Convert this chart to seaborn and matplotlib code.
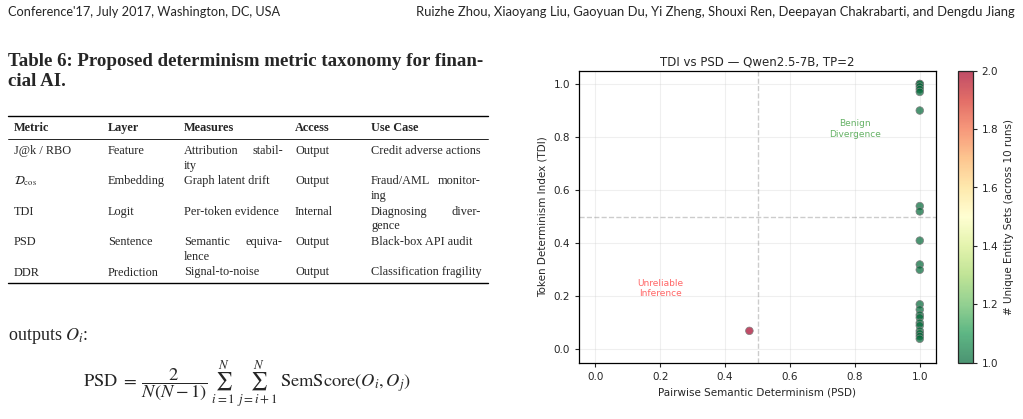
import numpy as np
import pandas as pd
import matplotlib
matplotlib.use("Agg")
import matplotlib.pyplot as plt
import seaborn as sns
from matplotlib.colors import ListedColormap, Normalize
from matplotlib.cm import ScalarMappable
from matplotlib.lines import Line2D

# ---- data ----
psd = [1.0] * 21 + [0.475]
tdi = [1.00, 1.00, 0.99, 0.98, 0.97, 0.90, 0.54, 0.52, 0.41, 0.32, 0.30,
       0.17, 0.15, 0.13, 0.12, 0.10, 0.09, 0.07, 0.06, 0.05, 0.04, 0.07]
unique_sets = [1.0] * 21 + [2.0]

cbar_ticks = [1.0, 1.2, 1.4, 1.6, 1.8, 2.0]

tbl_header = ["Metric", "Layer", "Measures", "Access", "Use Case"]
tbl_metric = ["J@k / RBO", r"$\mathcal{D}_{\mathrm{cos}}$", "TDI", "PSD", "DDR"]
tbl_layer = ["Feature", "Embedding", "Logit", "Sentence", "Prediction"]
tbl_measures = ["Attribution stabil-\nity", "Graph latent drift", "Per-token evidence",
                "Semantic equiva-\nlence", "Signal-to-noise"]
tbl_access = ["Output", "Output", "Internal", "Output", "Output"]
tbl_use = ["Credit adverse actions", "Fraud/AML monitor-\ning", "Diagnosing diver-\ngence",
           "Black-box API audit", "Classification fragility"]

df = pd.DataFrame({"PSD": psd, "TDI": tdi, "unique": unique_sets})

# ---- figure ----
sns.set_style("ticks")
plt.rcParams['font.family'] = ['DejaVu Sans']
plt.rcParams['mathtext.fontset'] = 'stix'

W, H = 1023, 419
fig = plt.figure(figsize=(W / 100, H / 100), dpi=100)


def fx(x):
    return x / W


def fy(y):
    return 1 - y / H


serif = ['Liberation Serif', 'DejaVu Serif']
sans = ['Lato', 'DejaVu Sans']

# page header
fig.text(fx(8), fy(12), "Conference'17, July 2017, Washington, DC, USA",
         family=sans, fontsize=9.2, va='center', ha='left')
fig.text(fx(1015), fy(12),
         "Ruizhe Zhou, Xiaoyang Liu, Gaoyuan Du, Yi Zheng, Shouxi Ren, Deepayan Chakrabarti, and Dengdu Jiang",
         family=sans, fontsize=9.4, va='center', ha='right')

# table caption
fig.text(fx(8), fy(61), "Table 6: Proposed determinism metric taxonomy for finan-",
         family=serif, fontsize=13.6, weight='bold', va='center', ha='left')
fig.text(fx(8), fy(81), "cial AI.", family=serif, fontsize=13.6, weight='bold',
         va='center', ha='left')

# table rules
for yy, lw in [(116.5, 1.0), (139.5, 0.6), (283, 1.0)]:
    fig.add_artist(Line2D([fx(8), fx(488)], [fy(yy), fy(yy)], color='black',
                          lw=lw, transform=fig.transFigure))

col_x = [14, 108, 184, 295, 371]
col_right = [100, 180, 283, 365, 481]
fs_tbl = 8.8
for cx, h in zip(col_x, tbl_header):
    fig.text(fx(cx), fy(128), h, family=serif, fontsize=fs_tbl, weight='bold',
             va='center', ha='left')

row_y = [150.5, 181, 211.5, 242, 272.5]
columns = [tbl_metric, tbl_layer, tbl_measures, tbl_access, tbl_use]
for ci, col in enumerate(columns):
    for ri, cell in enumerate(col):
        y0 = row_y[ri]
        if "\n" in cell:
            first, second = cell.split("\n")
            w1, w2 = first.rsplit(" ", 1)
            fig.text(fx(col_x[ci]), fy(y0), w1, family=serif, fontsize=fs_tbl,
                     va='center', ha='left')
            fig.text(fx(col_right[ci]), fy(y0), w2, family=serif, fontsize=fs_tbl,
                     va='center', ha='right')
            fig.text(fx(col_x[ci]), fy(y0 + 15), second, family=serif, fontsize=fs_tbl,
                     va='center', ha='left')
        elif cell.startswith("$"):
            fig.text(fx(col_x[ci]), fy(y0 + 3), cell, family=serif, fontsize=fs_tbl,
                     va='baseline', ha='left')
        else:
            fig.text(fx(col_x[ci]), fy(y0), cell, family=serif, fontsize=fs_tbl,
                     va='center', ha='left')

# body text and formula
fig.text(fx(8), fy(336), r"outputs $O_i$:", family=serif, fontsize=13,
         va='center', ha='left')
fig.text(fx(247), fy(384),
         r"$\mathrm{PSD}\;=\;\dfrac{2}{N(N-1)}\;\sum_{i=1}^{N}\;\sum_{j=i+1}^{N}\;\mathrm{SemScore}(O_i, O_j)$",
         fontsize=13.2, va='center', ha='center')

# ---- scatter chart ----
ax = fig.add_axes([579 / W, 1 - 362.7 / H, (936 - 579) / W, (362.7 - 70.7) / H])

base = plt.get_cmap('RdYlGn_r')(np.linspace(0, 1, 256))
base[:, 3] = 0.7
cmap = ListedColormap(base)
norm = Normalize(vmin=1.0, vmax=2.0)

sns.scatterplot(data=df, x="PSD", y="TDI", hue="unique", palette=cmap, hue_norm=norm,
                s=30, edgecolor='gray', linewidth=0.5, legend=False, ax=ax, zorder=3)

ax.axvline(0.5, color='gray', ls='--', alpha=0.4, lw=1)
ax.axhline(0.5, color='gray', ls='--', alpha=0.4, lw=1)

ax.text(0.8, 0.83, "Benign\nDivergence", color='green', alpha=0.6, fontsize=6.5,
        ha='center', va='center')
ax.text(0.2, 0.23, "Unreliable\nInference", color='red', alpha=0.6, fontsize=6.5,
        ha='center', va='center')

ax.set_xlim(-0.05, 1.05)
ax.set_ylim(-0.05, 1.05)
ax.set_xticks([0.0, 0.2, 0.4, 0.6, 0.8, 1.0])
ax.set_yticks([0.0, 0.2, 0.4, 0.6, 0.8, 1.0])
ax.grid(True, alpha=0.3)
ax.tick_params(labelsize=7.5, length=3, width=0.8)
for s in ax.spines.values():
    s.set_color('black')
    s.set_linewidth(0.9)
ax.set_xlabel("Pairwise Semantic Determinism (PSD)", fontsize=7.5)
ax.set_ylabel("Token Determinism Index (TDI)", fontsize=7.5)
ax.set_title("TDI vs PSD — Qwen2.5-7B, TP=2", fontsize=8.5, pad=4)

cax = fig.add_axes([957.7 / W, 1 - 362.7 / H, 15 / W, (362.7 - 70.7) / H])
sm = ScalarMappable(norm=norm, cmap=cmap)
cbar = fig.colorbar(sm, cax=cax, ticks=cbar_ticks)
cbar.ax.tick_params(labelsize=7.5, length=3, width=0.8)
cbar.set_label("# Unique Entity Sets (across 10 runs)", fontsize=7.5)
cbar.outline.set_linewidth(0.9)

fig.savefig("out.png", dpi=100)
